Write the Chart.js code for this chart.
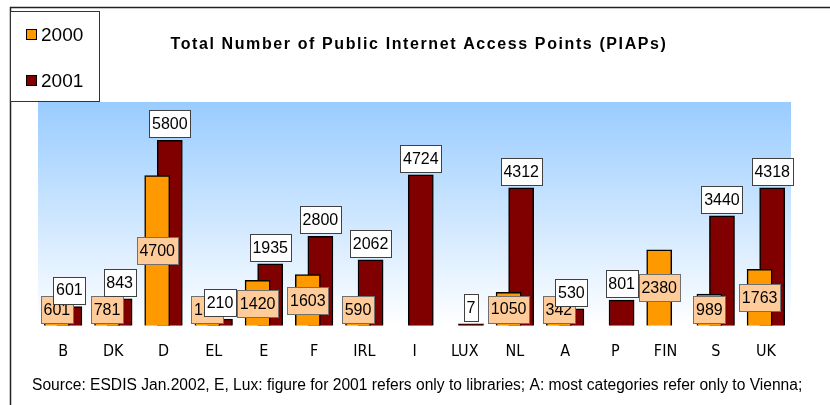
<!DOCTYPE html>
<html>
<head>
<meta charset="utf-8">
<script src="https://cdn.jsdelivr.net/npm/chart.js@4"></script>
<style>
  body { margin: 0; background: #fff; }
  #wrap { width: 830px; height: 405px; position: relative; }
</style>
</head>
<body>
<div id="wrap"><canvas id="piapChart"></canvas></div>
<script>
const countries = ['B', 'DK', 'D', 'EL', 'E', 'F', 'IRL', 'I', 'LUX', 'NL', 'A', 'P', 'FIN', 'S', 'UK'];
const piaps2000 = [601, 781, 4700, 150, 1420, 1603, 590, null, null, 1050, 342, null, 2380, 989, 1763];
const piaps2001 = [601, 843, 5800, 210, 1935, 2800, 2062, 4724, 7, 4312, 530, 801, null, 3440, 4318];
const seriesNames = ['2000', '2001'];
const seriesColors = ['#ff9900', '#800000'];
const labelFills = ['#ffcc99', '#ffffff'];
const chartTitle = 'Total Number of Public Internet Access Points (PIAPs)';
const sourceNote = 'Source: ESDIS Jan.2002, E, Lux: figure for 2001 refers only to libraries; A: most categories refer only to Vienna;';

const FONT = '"Liberation Sans", Arial, sans-serif';

// background, value boxes, legend, title and frame
const decorations = {
    id: 'decorations',
    beforeDraw(chart) {
        const ctx = chart.ctx, a = chart.chartArea;
        ctx.save();
        ctx.fillStyle = '#fff';
        ctx.fillRect(0, 0, chart.width, chart.height);
        const g = ctx.createLinearGradient(0, a.top, 0, a.bottom);
        g.addColorStop(0, '#99ccff');
        g.addColorStop(1, '#ffffff');
        ctx.fillStyle = g;
        ctx.fillRect(a.left, a.top, a.right - a.left, a.bottom - a.top + 4);
        ctx.restore();
    },
    afterDatasetsDraw(chart) {
        const ctx = chart.ctx;
        const boxH = 27;
        ctx.save();
        ctx.font = '16px ' + FONT;
        ctx.textAlign = 'center';
        ctx.textBaseline = 'middle';
        ctx.lineWidth = 1;
        countries.forEach((c, i) => {
            chart.data.datasets.forEach((ds, d) => {
                const v = ds.data[i];
                if (v === null || v === undefined) return;
                const el = chart.getDatasetMeta(d).data[i];
                const txt = String(v);
                const boxW = Math.round(ctx.measureText(txt).width) + 5;
                let cy;
                if (d === 0) {
                    cy = Math.min((el.y + el.base) / 2, el.base - 3 - boxH / 2);
                } else {
                    cy = el.y - 3 - boxH / 2;
                }
                const x0 = Math.round(el.x - boxW / 2) + 0.5;
                const y0 = Math.round(cy - boxH / 2) + 0.5;
                ctx.fillStyle = labelFills[d];
                ctx.fillRect(x0, y0, boxW, boxH);
                ctx.strokeStyle = d === 0 ? '#707070' : '#404040';
                ctx.strokeRect(x0, y0, boxW, boxH);
                ctx.fillStyle = '#000';
                ctx.fillText(txt, el.x, cy + 1);
            });
        });
        ctx.restore();
    },
    afterDraw(chart) {
        const ctx = chart.ctx;
        ctx.save();
        // outer frame
        ctx.strokeStyle = '#222';
        ctx.lineWidth = 1.5;
        ctx.beginPath();
        ctx.moveTo(830, 7.5);
        ctx.lineTo(10.5, 7.5);
        ctx.lineTo(10.5, 405);
        ctx.stroke();

        // legend box
        ctx.lineWidth = 1;
        ctx.fillStyle = '#fff';
        ctx.fillRect(10.5, 11.5, 89, 90);
        ctx.strokeStyle = '#333';
        ctx.strokeRect(10.5, 11.5, 89, 90);
        ctx.font = '19px ' + FONT;
        ctx.textBaseline = 'middle';
        ctx.textAlign = 'left';
        const rows = [35, 81];
        chart.data.datasets.forEach((ds, d) => {
            const y = rows[d];
            ctx.fillStyle = ds.backgroundColor;
            ctx.fillRect(26.5, y - 5.5, 10, 10);
            ctx.strokeStyle = '#000';
            ctx.strokeRect(26.5, y - 5.5, 10, 10);
            ctx.fillStyle = '#000';
            ctx.fillText(ds.label, 41, y + 1);
        });

        // title
        ctx.font = 'bold 16px ' + FONT;
        ctx.letterSpacing = '1.6px';
        ctx.textAlign = 'center';
        ctx.textBaseline = 'alphabetic';
        ctx.fillText(chartTitle, 419, 49);
        ctx.letterSpacing = '0px';

        // source note
        ctx.font = '15.6px ' + FONT;
        ctx.textAlign = 'left';
        ctx.textBaseline = 'middle';
        ctx.fillText(sourceNote, 32, 386);
        ctx.restore();
    }
};

new Chart(document.getElementById('piapChart'), {
    type: 'bar',
    data: {
        labels: countries,
        datasets: [{
            label: seriesNames[0],
            data: piaps2000,
            backgroundColor: seriesColors[0],
            borderColor: '#000',
            borderWidth: 1.5
        }, {
            label: seriesNames[1],
            data: piaps2001,
            backgroundColor: seriesColors[1],
            borderColor: '#000',
            borderWidth: 1.5,
            minBarLength: 2
        }]
    },
    options: {
        responsive: true,
        maintainAspectRatio: false,
        animation: false,
        categoryPercentage: 0.5,
        barPercentage: 2.0,
        layout: { padding: { left: 38, right: 39, top: 102, bottom: 28 } },
        plugins: {
            legend: { display: false },
            title: { display: false },
            tooltip: { enabled: false }
        },
        scales: {
            x: {
                grid: { display: false, drawTicks: false },
                border: { display: false },
                ticks: {
                    color: '#000',
                    padding: 16,
                    font: { family: '"Liberation Sans Narrow", "DejaVu Sans Condensed", "Liberation Sans", Arial, sans-serif', size: 16 }
                }
            },
            y: {
                display: false,
                min: 0,
                max: 7000
            }
        }
    },
    plugins: [decorations]
});
</script>
</body>
</html>
